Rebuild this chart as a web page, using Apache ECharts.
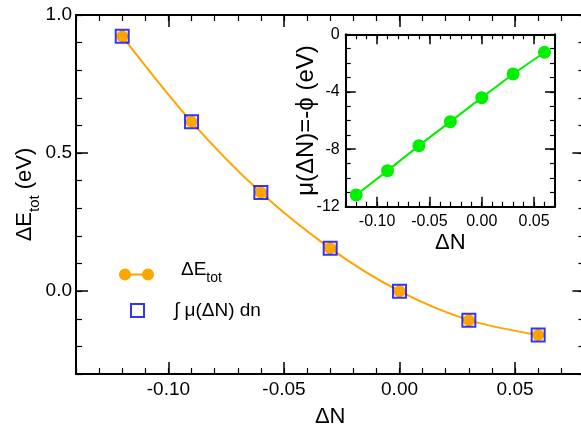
<!DOCTYPE html>
<html>
<head>
<meta charset="utf-8">
<script src="https://cdn.jsdelivr.net/npm/echarts@6/dist/echarts.min.js"></script>
<style>
  html, body { margin: 0; padding: 0; background: #ffffff; }
  #chart { width: 581px; height: 424px; }
</style>
</head>
<body>
<div id="chart"></div>
<script>
// Charge transfer ΔN and the resulting energies
const deltaN = [-0.12, -0.09, -0.06, -0.03, 0.00, 0.03, 0.06];
const deltaEtot = [0.923, 0.613, 0.357, 0.155, 0.000, -0.105, -0.159];
const muIntegral = [0.923, 0.613, 0.357, 0.155, 0.000, -0.105, -0.159];
const muValues = [-11.18, -9.49, -7.75, -6.08, -4.41, -2.76, -1.25];

// Tick values
const mainXTicks = [-0.10, -0.05, 0.00, 0.05];
const mainYTicks = [0.0, 0.5, 1.0];
const insetXTicks = [-0.10, -0.05, 0.00, 0.05];
const insetYTicks = [-12, -8, -4, 0];

const FONT = '"Liberation Sans", Arial, Helvetica, sans-serif';
const ORANGE = '#ffa500';
const BLUE = '#0000ff';
const GREEN = '#00f000';

const mainRect = { left: 76, top: 15, width: 508.4, height: 359 };
const insetRect = { left: 345.7, top: 34.3, width: 209.3, height: 172.4 };

function baseAxis(gridIndex, position, min, max, showLine) {
  return {
    type: 'value', gridIndex, position, min, max,
    silent: true,
    splitLine: { show: false },
    axisLine: { show: showLine, onZero: false, lineStyle: { color: '#000', width: 2 } },
    axisTick: { show: true, inside: true, length: 12, lineStyle: { color: '#000', width: 1.5 } },
    axisLabel: { show: false }
  };
}

// Axis carrying the labelled (major) ticks
function majorAxis(gridIndex, position, min, max, ticks, opt) {
  const a = baseAxis(gridIndex, position, min, max, true);
  a.axisTick.customValues = ticks;
  a.axisTick.length = opt.tickLen;
  if (opt.labels) {
    a.axisLabel = {
      show: true, customValues: ticks, formatter: opt.fmt,
      fontSize: opt.fontSize, fontFamily: FONT, color: '#000', margin: opt.margin
    };
  }
  return a;
}

// Axis carrying the short, unlabelled (minor) ticks
function minorAxis(gridIndex, position, min, max, interval, len) {
  const a = baseAxis(gridIndex, position, min, max, false);
  a.interval = interval;
  a.axisTick.length = len;
  a.axisTick.lineStyle.width = 1.2;
  return a;
}

const fmt2 = v => v.toFixed(2);
const fmt1 = v => v.toFixed(1);
const fmt0 = v => String(Math.round(v));

const subRich = {
  a: { fontSize: 22, fontFamily: FONT, color: '#000', lineHeight: 22, padding: [0, 0, 11, 0] },
  s: { fontSize: 15, fontFamily: FONT, color: '#000', lineHeight: 15, padding: [9, 0, 0, 0] }
};

// Main panel axes
const mX = majorAxis(0, 'bottom', -0.14, 0.08, mainXTicks, { tickLen: 12, labels: true, fmt: fmt2, fontSize: 19, margin: 6 });
Object.assign(mX, {
  name: 'ΔN', nameLocation: 'middle', nameGap: 32, nameMoveOverlap: false,
  nameTextStyle: { fontSize: 22, fontFamily: FONT, color: '#000', lineHeight: 22 }
});
const mXTop = majorAxis(0, 'top', -0.14, 0.08, mainXTicks, { tickLen: 12, labels: false });
const mY = majorAxis(0, 'left', -0.3, 1.0, mainYTicks, { tickLen: 12, labels: true, fmt: fmt1, fontSize: 19, margin: 4 });
Object.assign(mY, {
  name: '{a|ΔE}{s|tot}{a| (eV)}', nameLocation: 'middle', nameGap: 35, nameMoveOverlap: false,
  nameTextStyle: { rich: subRich }
});
const mYRight = majorAxis(0, 'right', -0.3, 1.0, mainYTicks, { tickLen: 12, labels: false });

// Inset panel axes
const iX = majorAxis(2, 'bottom', -0.13, 0.07, insetXTicks, { tickLen: 10, labels: true, fmt: fmt2, fontSize: 16, margin: 7 });
Object.assign(iX, {
  name: 'ΔN', nameLocation: 'middle', nameGap: 25.5, nameMoveOverlap: false,
  nameTextStyle: { fontSize: 22, fontFamily: FONT, color: '#000', lineHeight: 22 }
});
const iXTop = majorAxis(2, 'top', -0.13, 0.07, insetXTicks, { tickLen: 10, labels: false });
const iY = majorAxis(2, 'left', -12, 0, insetYTicks, { tickLen: 10, labels: true, fmt: fmt0, fontSize: 16, margin: 6 });
Object.assign(iY, {
  name: 'μ(ΔN)=-ϕ (eV)', nameLocation: 'middle', nameGap: 27, nameMoveOverlap: false,
  nameTextStyle: { fontSize: 24, fontFamily: FONT, color: '#000', lineHeight: 24 }
});
const iYRight = majorAxis(2, 'right', -12, 0, insetYTicks, { tickLen: 10, labels: false });

const legendCircles = 'path://M6,0A6,6,0,1,1,6,12A6,6,0,1,1,6,0ZM29,0A6,6,0,1,1,29,12A6,6,0,1,1,29,0ZM6,5L29,5L29,7L6,7Z';

const option = {
  animation: false,
  backgroundColor: '#ffffff',
  grid: [
    Object.assign({ outerBoundsMode: 'none', containLabel: false }, mainRect),
    Object.assign({ outerBoundsMode: 'none', containLabel: false }, mainRect),
    Object.assign({ outerBoundsMode: 'none', containLabel: false, show: true, backgroundColor: '#ffffff', borderWidth: 0 }, insetRect),
    Object.assign({ outerBoundsMode: 'none', containLabel: false }, insetRect)
  ],
  xAxis: [
    mX, mXTop,
    minorAxis(1, 'bottom', -0.14, 0.08, 0.01, 6),
    minorAxis(1, 'top', -0.14, 0.08, 0.01, 6),
    iX, iXTop,
    minorAxis(3, 'bottom', -0.13, 0.07, 0.01, 5),
    minorAxis(3, 'top', -0.13, 0.07, 0.01, 5)
  ],
  yAxis: [
    mY, mYRight,
    minorAxis(1, 'left', -0.3, 1.0, 0.1, 6),
    minorAxis(1, 'right', -0.3, 1.0, 0.1, 6),
    iY, iYRight,
    minorAxis(3, 'left', -12, 0, 1, 5),
    minorAxis(3, 'right', -12, 0, 1, 5)
  ],
  legend: [
    {
      data: [{ name: 'ΔE_tot', icon: legendCircles, itemStyle: { color: ORANGE, borderWidth: 0 } }],
      left: 119, top: 260, orient: 'vertical', padding: 0,
      itemWidth: 35, itemHeight: 12, selectedMode: false,
      formatter: () => '{a|ΔE}{s|tot}',
      textStyle: {
        rich: {
          a: { fontSize: 19, fontFamily: FONT, color: '#000', lineHeight: 20, padding: [0, 0, 10, 22] },
          s: { fontSize: 14, fontFamily: FONT, color: '#000', lineHeight: 14, padding: [8, 0, 0, 0] }
        }
      }
    },
    {
      data: [{ name: '∫ μ(ΔN) dn', icon: 'rect', itemStyle: { color: 'transparent', borderColor: BLUE, borderWidth: 2 } }],
      left: 130, top: 301, orient: 'vertical', padding: 0,
      itemWidth: 13, itemHeight: 13, selectedMode: false,
      formatter: n => '{b|' + n + '}',
      textStyle: {
        rich: { b: { fontSize: 19, fontFamily: FONT, color: '#000', lineHeight: 22, padding: [0, 0, 0, 25] } }
      }
    }
  ],
  series: [
    {
      type: 'line', name: 'ΔE_tot', xAxisIndex: 0, yAxisIndex: 0,
      data: deltaN.map((x, i) => [x, deltaEtot[i]]),
      smooth: 0.3, symbol: 'circle', symbolSize: 12, showSymbol: true,
      lineStyle: { color: ORANGE, width: 2 },
      itemStyle: { color: ORANGE, borderWidth: 0 },
      emphasis: { disabled: true }, z: 3
    },
    {
      type: 'scatter', name: '∫ μ(ΔN) dn', xAxisIndex: 0, yAxisIndex: 0,
      data: deltaN.map((x, i) => [x, muIntegral[i]]),
      symbol: 'rect', symbolSize: 13,
      itemStyle: { color: 'transparent', borderColor: BLUE, borderWidth: 2 },
      emphasis: { disabled: true }, z: 4
    },
    {
      type: 'line', name: 'μ', xAxisIndex: 4, yAxisIndex: 4,
      data: deltaN.map((x, i) => [x, muValues[i]]),
      symbol: 'circle', symbolSize: 13, showSymbol: true,
      lineStyle: { color: GREEN, width: 2 },
      itemStyle: { color: GREEN, borderWidth: 0 },
      emphasis: { disabled: true }, z: 3
    }
  ]
};

const chart = echarts.init(document.getElementById('chart'), null, { renderer: 'canvas' });
chart.setOption(option);
</script>
</body>
</html>
